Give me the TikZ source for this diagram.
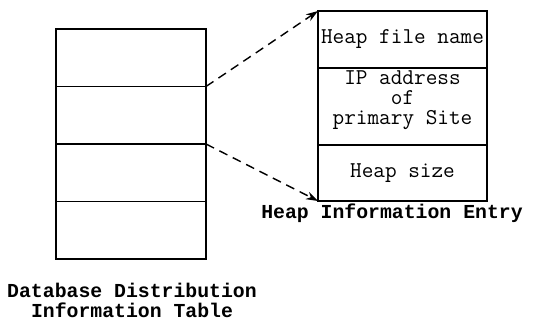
\documentclass[tikz,border=0pt]{standalone}
\usepackage{fontspec}
\newfontfamily\captionmono{Liberation Mono}
\usetikzlibrary{arrows.meta,positioning}

\tikzset{
    tblrow/.style={draw, line width=0.9pt, outer sep=0pt, inner sep=0pt,
        minimum width=75pt, minimum height=28.75pt},
    entryrow/.style={draw, line width=0.9pt, outer sep=0pt, inner sep=0pt,
        minimum width=84.5pt, align=center,
        font=\ttfamily\fontsize{11.3}{10}\selectfont},
    entrytext/.style={inner sep=0pt, align=center,
        font=\ttfamily\fontsize{11.3}{10}\selectfont},
    caption/.style={inner sep=0pt, align=center,
        font=\captionmono\bfseries\fontsize{9.9}{10}\selectfont},
    link/.style={-{Stealth[length=6pt, width=4pt]}, line width=0.7pt,
        dash pattern=on 4.5pt off 3pt}
}

\begin{document}
\begin{tikzpicture}[x=0.5pt, y=-0.5pt]

    \useasboundingbox (0, 0) rectangle (536, 320);

    % distribution table
    \node [tblrow, anchor=north west] (row1) at (56, 29) {};
    \node [tblrow, below=0pt of row1] (row2) {};
    \node [tblrow, below=0pt of row2] (row3) {};
    \node [tblrow, below=0pt of row3] (row4) {};

    % heap entry
    \node [entryrow, minimum height=28.5pt, anchor=north west] (hname) at (318, 11) {Heap file name};
    \node [entryrow, minimum height=38.5pt, below=0pt of hname] (haddr) {};
    \node [entrytext] (addrtext) at ([yshift=3pt]haddr.center) {IP address\\of\\primary Site};
    \node [entryrow, minimum height=28pt, below=0pt of haddr] (hsize) {Heap size};

    \node [caption] (entrycap) at (392, 213) {Heap Information Entry};
    \node [caption] (tablecap) at (132, 300) {Database Distribution\\Information Table};

    \draw [link] (row1.south east) -- (hname.north west);
    \draw [link] (row2.south east) -- (hsize.south west);

\end{tikzpicture}
\end{document}
